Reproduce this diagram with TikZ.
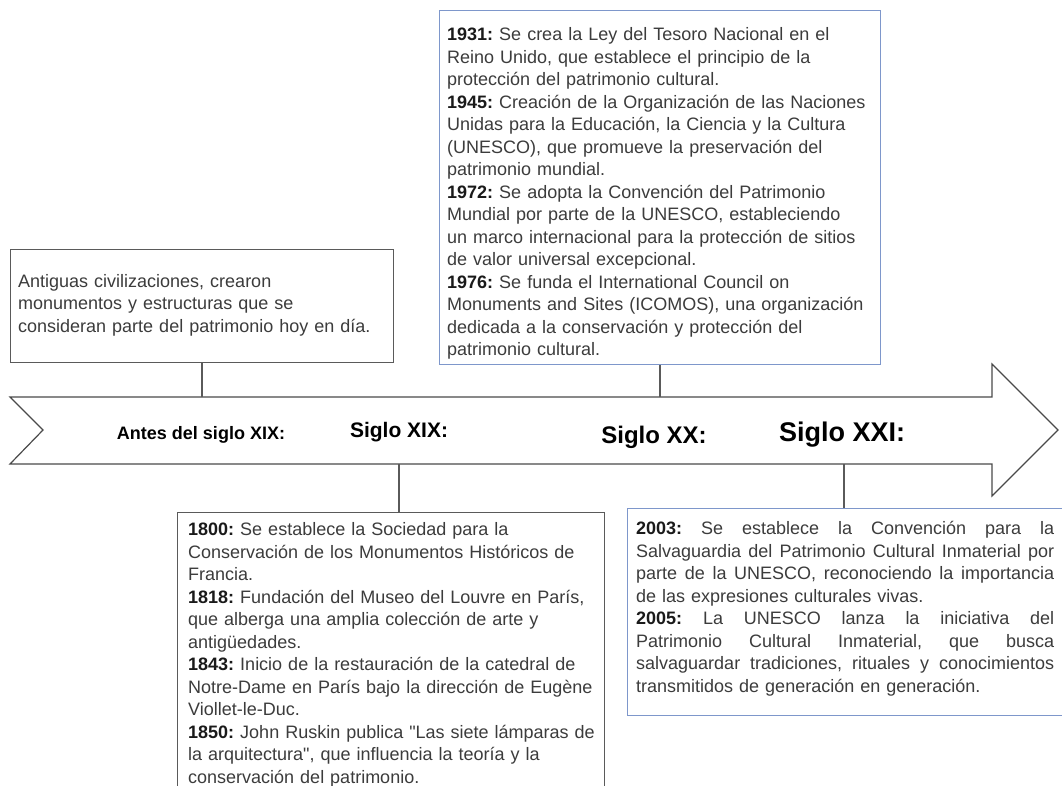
\documentclass[tikz,border=0pt]{standalone}
\usepackage{fontspec}
\setmainfont{Liberation Sans}
\definecolor{boxgray}{HTML}{5A5A5A}
\definecolor{boxblue}{HTML}{7E97CB}
\definecolor{txtgray}{HTML}{3C3C3C}
\definecolor{yrcol}{HTML}{1A1A1A}
\definecolor{arrowcol}{HTML}{4A4A4A}
\hyphenpenalty=10000
\exhyphenpenalty=10000
\AtBeginDocument{\frenchspacing}
\newcommand{\yr}[1]{\textbf{\color{yrcol}#1}}
\newcommand{\jl}[1]{\leavevmode\hbox to 418pt{\spaceskip=\fontdimen2\font plus 1fil\relax #1}}
\begin{document}
\begin{tikzpicture}[x=1pt,y=-1pt,
  gbox/.style={draw=boxgray, line width=1.2pt, inner sep=0pt, anchor=north west},
  bbox/.style={draw=boxblue, line width=1.2pt, inner sep=0pt, anchor=north west},
  txt/.style={inner sep=0pt, anchor=north west, align=left, text=txtgray,
    font=\fontsize{18}{22.5}\selectfont},
  lbl/.style={inner sep=0pt, anchor=base, text=black},
  conn/.style={draw=boxgray, line width=1.2pt}]
\useasboundingbox (0,0) rectangle (1062,785);
\clip (0,0) rectangle (1062,785);
\fill[white] (0,0) rectangle (1062,785);

% timeline arrow
\draw[draw=arrowcol, line width=1.2pt, line join=miter]
  (10,397) -- (992,397) -- (992,364) -- (1058,430) -- (992,496) -- (992,464)
  -- (10,464) -- (43,430) -- cycle;
\coordinate (atop) at (0,397);
\coordinate (abot) at (0,464);

% labels
\node[lbl, font=\bfseries\fontsize{18}{20}\selectfont] (l0) at (201,439.5) {Antes del siglo XIX:};
\node[lbl, font=\bfseries\fontsize{21}{24}\selectfont] (l1) at (399,437.5) {Siglo XIX:};
\node[lbl, font=\bfseries\fontsize{24}{28}\selectfont] (l2) at (654,443.6) {Siglo XX:};
\node[lbl, font=\bfseries\fontsize{27}{30}\selectfont] (l3) at (842,441.7) {Siglo XXI:};

% boxes
\node[gbox, minimum width=383pt, minimum height=113pt] (b0) at (10,249) {};
\node[bbox, minimum width=441pt, minimum height=354pt] (b1) at (439,10) {};
\node[gbox, minimum width=427pt, minimum height=320pt] (b2) at (177,512) {};
\node[bbox, minimum width=436pt, minimum height=207pt] (b3) at (627,508) {};

% connector anchor points on the arrow
\coordinate (k0) at (202,0);
\coordinate (k1) at (660,0);
\coordinate (k2) at (399,0);
\coordinate (k3) at (844,0);
\draw[conn] (b0.south -| k0) -- (k0 |- atop);
\draw[conn] (b1.south -| k1) -- (k1 |- atop);
\draw[conn] (k2 |- abot) -- (b2.north -| k2);
\draw[conn] (k3 |- abot) -- (b3.north -| k3);

% texts
\node[txt, text width=370pt] (t0) at (18,274) {Antiguas civilizaciones, crearon\\
monumentos y estructuras que se\\
consideran parte del patrimonio hoy en día.};

\node[txt, text width=440pt] (t1) at (447,27.4) {\yr{1931:} Se crea la Ley del Tesoro Nacional en el\\
Reino Unido, que establece el principio de la\\
protección del patrimonio cultural.\\
\yr{1945:} Creación de la Organización de las Naciones\\
Unidas para la Educación, la Ciencia y la Cultura\\
(UNESCO), que promueve la preservación del\\
patrimonio mundial.\\
\yr{1972:} Se adopta la Convención del Patrimonio\\
Mundial por parte de la UNESCO, estableciendo\\
un marco internacional para la protección de sitios\\
de valor universal excepcional.\\
\yr{1976:} Se funda el International Council on\\
Monuments and Sites (ICOMOS), una organización\\
dedicada a la conservación y protección del\\
patrimonio cultural.};

\node[txt, text width=415pt] (t2) at (188,522.4) {\yr{1800:} Se establece la Sociedad para la\\
Conservación de los Monumentos Históricos de\\
Francia.\\
\yr{1818:} Fundación del Museo del Louvre en París,\\
que alberga una amplia colección de arte y\\
antigüedades.\\
\yr{1843:} Inicio de la restauración de la catedral de\\
Notre-Dame en París bajo la dirección de Eugène\\
Viollet-le-Duc.\\
\yr{1850:} John Ruskin publica \textquotedbl Las siete lámparas de\\
la arquitectura\textquotedbl, que influencia la teoría y la\\
conservación del patrimonio.};

\node[txt, text width=420pt] (t3) at (636,521.4) {\jl{\yr{2003:} Se establece la Convención para la}\\
\jl{Salvaguardia del Patrimonio Cultural Inmaterial por}\\
\jl{parte de la UNESCO, reconociendo la importancia}\\
de las expresiones culturales vivas.\\
\jl{\yr{2005:} La UNESCO lanza la iniciativa del}\\
\jl{Patrimonio Cultural Inmaterial, que busca}\\
\jl{salvaguardar tradiciones, rituales y conocimientos}\\
transmitidos de generación en generación.};
\end{tikzpicture}
\end{document}
